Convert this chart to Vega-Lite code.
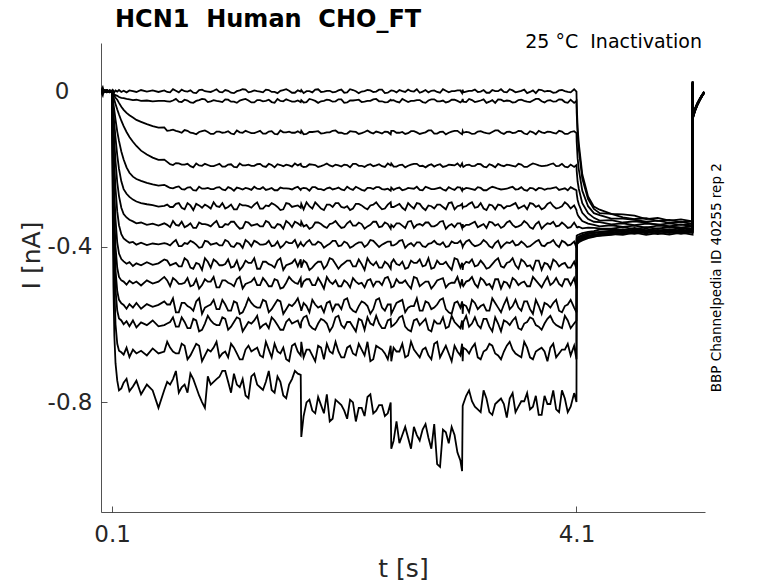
{
  "$schema": "https://vega.github.io/schema/vega-lite/v6.json",
  "width": 604,
  "height": 469,
  "autosize": {"type": "none"},
  "padding": {"left": 101, "top": 43, "right": 73, "bottom": 71},
  "background": "white",
  "config": {"view": {"stroke": null}, "font": "DejaVu Sans"},
  "layer": [
    {
      "data": {"values": [
        {"t":0.005,"a":0.001,"b":-0.002,"c":0.002,"d":-0.001,"e":0.003,"f":-0.002,"g":0.001,"h":-0.003,"i":0.002,"j":0,"k":-0.002,"l":0.003,"m":-0.001,"n":0.002},
        {"t":0.02,"a":0.01,"b":-0.011,"c":0.004,"d":-0.003,"e":0.001,"f":0.002,"g":-0.002,"h":0.001,"i":-0.001,"j":0.002,"k":0,"l":-0.001,"m":0.001,"n":0},
        {"t":0.03,"a":-0.002,"b":0.003,"c":-0.001,"d":0.002,"e":-0.003,"f":0.001,"g":-0.002,"h":0.002,"i":-0.001,"j":0.003,"k":0.001,"l":-0.002,"m":0.002,"n":-0.003},
        {"t":0.055,"a":0.002,"b":0,"c":0.003,"d":-0.002,"e":0.001,"f":0.003,"g":-0.001,"h":0,"i":0.003,"j":-0.002,"k":0.002,"l":0.001,"m":-0.003,"n":0.001},
        {"t":0.08,"a":-0.001,"b":0.002,"c":-0.002,"d":0.001,"e":0,"f":-0.003,"g":0.002,"h":0.001,"i":-0.002,"j":0.002,"k":-0.001,"l":0,"m":0.002,"n":-0.002},
        {"t":0.1,"a":0.001,"b":0,"c":-0.001,"d":0.001,"e":0,"f":0.001,"g":-0.001,"h":0,"i":0.001,"j":-0.001,"k":0,"l":0.001,"m":0,"n":-0.001},
        {"t":0.102,"a":0.002,"b":-0.002,"c":-0.002,"d":-0.003,"e":-0.005,"f":-0.01,"g":-0.015,"h":-0.025,"i":-0.035,"j":-0.05,"k":-0.06,"l":-0.07,"m":-0.08,"n":-0.1},
        {"t":0.106,"a":-0.002,"b":-0.005,"c":-0.005,"d":-0.007,"e":-0.016,"f":-0.03,"g":-0.045,"h":-0.07,"i":-0.1,"j":-0.13,"k":-0.16,"l":-0.19,"m":-0.22,"n":-0.3},
        {"t":0.112,"a":0.001,"b":-0.006,"c":-0.008,"d":-0.014,"e":-0.032,"f":-0.055,"g":-0.085,"h":-0.13,"i":-0.18,"j":-0.23,"k":-0.28,"l":-0.32,"m":-0.38,"n":-0.5},
        {"t":0.12,"a":-0.003,"b":-0.009,"c":-0.012,"d":-0.023,"e":-0.05,"f":-0.085,"g":-0.13,"h":-0.19,"i":-0.26,"j":-0.32,"k":-0.38,"l":-0.43,"m":-0.5,"n":-0.63},
        {"t":0.13,"a":0.002,"b":-0.01,"c":-0.017,"d":-0.033,"e":-0.073,"f":-0.12,"g":-0.18,"h":-0.25,"i":-0.33,"j":-0.4,"k":-0.46,"l":-0.51,"m":-0.6,"n":-0.7},
        {"t":0.145,"a":-0.001,"b":-0.012,"c":-0.022,"d":-0.047,"e":-0.104,"f":-0.165,"g":-0.235,"h":-0.31,"i":-0.39,"j":-0.455,"k":-0.515,"l":-0.565,"m":-0.65,"n":-0.745},
        {"t":0.16,"a":0.003,"b":-0.015,"c":-0.03,"d":-0.06,"e":-0.128,"f":-0.2,"g":-0.27,"h":-0.345,"i":-0.418,"j":-0.478,"k":-0.537,"l":-0.585,"m":-0.668,"n":-0.77},
        {"t":0.18,"a":-0.002,"b":-0.017,"c":-0.04,"d":-0.076,"e":-0.155,"f":-0.232,"g":-0.3,"h":-0.368,"i":-0.432,"j":-0.487,"k":-0.546,"l":-0.59,"m":-0.672,"n":-0.765},
        {"t":0.2,"a":0.001,"b":-0.018,"c":-0.048,"d":-0.09,"e":-0.176,"f":-0.252,"g":-0.316,"h":-0.379,"i":-0.438,"j":-0.49,"k":-0.55,"l":-0.6,"m":-0.678,"n":-0.75},
        {"t":0.225,"a":-0.003,"b":-0.02,"c":-0.056,"d":-0.105,"e":-0.196,"f":-0.264,"g":-0.325,"h":-0.385,"i":-0.444,"j":-0.498,"k":-0.56,"l":-0.592,"m":-0.66,"n":-0.74},
        {"t":0.25,"a":0.002,"b":-0.021,"c":-0.062,"d":-0.118,"e":-0.21,"f":-0.272,"g":-0.331,"h":-0.39,"i":-0.44,"j":-0.488,"k":-0.548,"l":-0.605,"m":-0.684,"n":-0.772},
        {"t":0.28,"a":0,"b":-0.023,"c":-0.068,"d":-0.13,"e":-0.22,"f":-0.279,"g":-0.335,"h":-0.388,"i":-0.45,"j":-0.495,"k":-0.557,"l":-0.59,"m":-0.665,"n":-0.76},
        {"t":0.31,"a":-0.002,"b":-0.022,"c":-0.074,"d":-0.141,"e":-0.226,"f":-0.284,"g":-0.34,"h":-0.395,"i":-0.443,"j":-0.49,"k":-0.545,"l":-0.608,"m":-0.675,"n":-0.745},
        {"t":0.35,"a":0.003,"b":-0.025,"c":-0.079,"d":-0.153,"e":-0.231,"f":-0.288,"g":-0.338,"h":-0.39,"i":-0.448,"j":-0.5,"k":-0.56,"l":-0.595,"m":-0.668,"n":-0.78},
        {"t":0.4,"a":-0.001,"b":-0.024,"c":-0.085,"d":-0.163,"e":-0.236,"f":-0.291,"g":-0.344,"h":-0.396,"i":-0.44,"j":-0.487,"k":-0.548,"l":-0.602,"m":-0.68,"n":-0.755},
        {"t":0.45,"a":0.002,"b":-0.026,"c":-0.09,"d":-0.171,"e":-0.24,"f":-0.293,"g":-0.341,"h":-0.392,"i":-0.447,"j":-0.495,"k":-0.555,"l":-0.59,"m":-0.662,"n":-0.77},
        {"t":0.5,"a":-0.002,"b":-0.025,"c":-0.094,"d":-0.177,"e":-0.243,"f":-0.297,"g":-0.346,"h":-0.394,"i":-0.443,"j":-0.49,"k":-0.55,"l":-0.605,"m":-0.675,"n":-0.815},
        {"t":0.55,"a":0.002,"b":-0.025,"c":-0.093,"d":-0.176,"e":-0.241,"f":-0.295,"g":-0.34,"h":-0.391,"i":-0.433,"j":-0.478,"k":-0.541,"l":-0.602,"m":-0.67,"n":-0.769},
        {"t":0.6,"a":-0.003,"b":-0.027,"c":-0.101,"d":-0.188,"e":-0.249,"f":-0.298,"g":-0.35,"h":-0.397,"i":-0.448,"j":-0.502,"k":-0.549,"l":-0.594,"m":-0.66,"n":-0.755},
        {"t":0.65,"a":0.001,"b":-0.02,"c":-0.102,"d":-0.185,"e":-0.247,"f":-0.29,"g":-0.344,"h":-0.383,"i":-0.442,"j":-0.487,"k":-0.569,"l":-0.606,"m":-0.675,"n":-0.72},
        {"t":0.7,"a":0.004,"b":-0.028,"c":-0.107,"d":-0.189,"e":-0.252,"f":-0.3,"g":-0.336,"h":-0.399,"i":-0.451,"j":-0.496,"k":-0.545,"l":-0.582,"m":-0.65,"n":-0.762},
        {"t":0.75,"a":-0.001,"b":-0.024,"c":-0.102,"d":-0.187,"e":-0.248,"f":-0.288,"g":-0.346,"h":-0.393,"i":-0.436,"j":-0.481,"k":-0.553,"l":-0.61,"m":-0.69,"n":-0.776},
        {"t":0.8,"a":-0.004,"b":-0.03,"c":-0.108,"d":-0.196,"e":-0.255,"f":-0.306,"g":-0.352,"h":-0.389,"i":-0.457,"j":-0.499,"k":-0.565,"l":-0.586,"m":-0.665,"n":-0.741},
        {"t":0.85,"a":0.003,"b":-0.023,"c":-0.105,"d":-0.191,"e":-0.246,"f":-0.294,"g":-0.338,"h":-0.403,"i":-0.445,"j":-0.508,"k":-0.533,"l":-0.618,"m":-0.655,"n":-0.783},
        {"t":0.9,"a":0,"b":-0.021,"c":-0.101,"d":-0.187,"e":-0.251,"f":-0.292,"g":-0.342,"h":-0.385,"i":-0.43,"j":-0.484,"k":-0.557,"l":-0.598,"m":-0.68,"n":-0.815},
        {"t":0.95,"a":-0.002,"b":-0.026,"c":-0.11,"d":-0.193,"e":-0.252,"f":-0.302,"g":-0.348,"h":-0.395,"i":-0.454,"j":-0.49,"k":-0.549,"l":-0.59,"m":-0.67,"n":-0.755},
        {"t":1.0,"a":0.005,"b":-0.025,"c":-0.104,"d":-0.19,"e":-0.248,"f":-0.296,"g":-0.334,"h":-0.391,"i":-0.439,"j":-0.505,"k":-0.561,"l":-0.602,"m":-0.645,"n":-0.741},
        {"t":1.05,"a":-0.003,"b":-0.028,"c":-0.107,"d":-0.194,"e":-0.253,"f":-0.288,"g":-0.35,"h":-0.397,"i":-0.448,"j":-0.487,"k":-0.537,"l":-0.582,"m":-0.675,"n":-0.72},
        {"t":1.1,"a":0.001,"b":-0.022,"c":-0.103,"d":-0.189,"e":-0.247,"f":-0.298,"g":-0.344,"h":-0.387,"i":-0.433,"j":-0.493,"k":-0.565,"l":-0.614,"m":-0.685,"n":-0.748},
        {"t":1.15,"a":-0.005,"b":-0.027,"c":-0.111,"d":-0.195,"e":-0.256,"f":-0.304,"g":-0.336,"h":-0.401,"i":-0.451,"j":-0.502,"k":-0.541,"l":-0.594,"m":-0.66,"n":-0.727},
        {"t":1.2,"a":0.002,"b":-0.024,"c":-0.106,"d":-0.186,"e":-0.25,"f":-0.29,"g":-0.354,"h":-0.393,"i":-0.46,"j":-0.478,"k":-0.573,"l":-0.586,"m":-0.69,"n":-0.762},
        {"t":1.25,"a":0.004,"b":-0.02,"c":-0.102,"d":-0.191,"e":-0.249,"f":-0.294,"g":-0.336,"h":-0.383,"i":-0.436,"j":-0.496,"k":-0.553,"l":-0.606,"m":-0.665,"n":-0.783},
        {"t":1.3,"a":-0.001,"b":-0.029,"c":-0.108,"d":-0.192,"e":-0.254,"f":-0.3,"g":-0.346,"h":-0.399,"i":-0.442,"j":-0.49,"k":-0.545,"l":-0.598,"m":-0.67,"n":-0.734},
        {"t":1.35,"a":0,"b":-0.023,"c":-0.105,"d":-0.188,"e":-0.251,"f":-0.286,"g":-0.342,"h":-0.389,"i":-0.457,"j":-0.499,"k":-0.557,"l":-0.578,"m":-0.66,"n":-0.755},
        {"t":1.4,"a":-0.003,"b":-0.026,"c":-0.109,"d":-0.193,"e":-0.247,"f":-0.302,"g":-0.348,"h":-0.395,"i":-0.439,"j":-0.481,"k":-0.537,"l":-0.602,"m":-0.685,"n":-0.769},
        {"t":1.45,"a":0.003,"b":-0.022,"c":-0.104,"d":-0.187,"e":-0.252,"f":-0.296,"g":-0.338,"h":-0.385,"i":-0.445,"j":-0.502,"k":-0.569,"l":-0.61,"m":-0.665,"n":-0.72},
        {"t":1.5,"a":-0.002,"b":-0.03,"c":-0.11,"d":-0.196,"e":-0.255,"f":-0.292,"g":-0.352,"h":-0.397,"i":-0.454,"j":-0.484,"k":-0.549,"l":-0.59,"m":-0.65,"n":-0.776},
        {"t":1.55,"a":0.001,"b":-0.025,"c":-0.101,"d":-0.19,"e":-0.248,"f":-0.306,"g":-0.344,"h":-0.403,"i":-0.43,"j":-0.508,"k":-0.541,"l":-0.614,"m":-0.675,"n":-0.748},
        {"t":1.6,"a":0.005,"b":-0.021,"c":-0.106,"d":-0.189,"e":-0.25,"f":-0.288,"g":-0.334,"h":-0.387,"i":-0.448,"j":-0.493,"k":-0.561,"l":-0.594,"m":-0.69,"n":-0.79},
        {"t":1.65,"a":-0.004,"b":-0.027,"c":-0.107,"d":-0.194,"e":-0.253,"f":-0.298,"g":-0.35,"h":-0.391,"i":-0.442,"j":-0.487,"k":-0.553,"l":-0.598,"m":-0.655,"n":-0.741},
        {"t":1.7,"a":0.002,"b":-0.024,"c":-0.103,"d":-0.191,"e":-0.246,"f":-0.294,"g":-0.34,"h":-0.401,"i":-0.451,"j":-0.496,"k":-0.533,"l":-0.59,"m":-0.67,"n":-0.727},
        {"t":1.725,"a":-0.001,"b":-0.028,"c":-0.108,"d":-0.187,"e":-0.254,"f":-0.3,"g":-0.346,"h":-0.389,"i":-0.433,"j":-0.481,"k":-0.557,"l":-0.61,"m":-0.68,"n":-0.73},
        {"t":1.73,"a":0.003,"b":-0.023,"c":-0.102,"d":-0.192,"e":-0.251,"f":-0.29,"g":-0.336,"h":-0.393,"i":-0.454,"j":-0.505,"k":-0.565,"l":-0.594,"m":-0.645,"n":-0.89},
        {"t":1.75,"a":-0.005,"b":-0.029,"c":-0.111,"d":-0.195,"e":-0.249,"f":-0.304,"g":-0.348,"h":-0.399,"i":-0.436,"j":-0.49,"k":-0.545,"l":-0.582,"m":-0.685,"n":-0.836},
        {"t":1.8,"a":0,"b":-0.02,"c":-0.105,"d":-0.188,"e":-0.256,"f":-0.296,"g":-0.354,"h":-0.383,"i":-0.46,"j":-0.484,"k":-0.569,"l":-0.602,"m":-0.665,"n":-0.794},
        {"t":1.85,"a":0.004,"b":-0.025,"c":-0.104,"d":-0.19,"e":-0.247,"f":-0.286,"g":-0.338,"h":-0.395,"i":-0.445,"j":-0.499,"k":-0.549,"l":-0.614,"m":-0.695,"n":-0.829},
        {"t":1.9,"a":-0.002,"b":-0.026,"c":-0.109,"d":-0.193,"e":-0.252,"f":-0.302,"g":-0.342,"h":-0.391,"i":-0.439,"j":-0.493,"k":-0.553,"l":-0.586,"m":-0.66,"n":-0.808},
        {"t":1.95,"a":0.001,"b":-0.022,"c":-0.106,"d":-0.186,"e":-0.25,"f":-0.292,"g":-0.352,"h":-0.397,"i":-0.448,"j":-0.478,"k":-0.545,"l":-0.598,"m":-0.65,"n":-0.78},
        {"t":2.0,"a":-0.003,"b":-0.027,"c":-0.102,"d":-0.194,"e":-0.253,"f":-0.298,"g":-0.34,"h":-0.385,"i":-0.433,"j":-0.496,"k":-0.565,"l":-0.606,"m":-0.675,"n":-0.843},
        {"t":2.05,"a":0.002,"b":-0.021,"c":-0.107,"d":-0.191,"e":-0.248,"f":-0.288,"g":-0.344,"h":-0.399,"i":-0.457,"j":-0.502,"k":-0.549,"l":-0.578,"m":-0.67,"n":-0.801},
        {"t":2.1,"a":-0.004,"b":-0.03,"c":-0.11,"d":-0.189,"e":-0.255,"f":-0.3,"g":-0.35,"h":-0.387,"i":-0.442,"j":-0.487,"k":-0.537,"l":-0.61,"m":-0.685,"n":-0.822},
        {"t":2.15,"a":0.005,"b":-0.024,"c":-0.103,"d":-0.196,"e":-0.251,"f":-0.306,"g":-0.334,"h":-0.403,"i":-0.436,"j":-0.505,"k":-0.557,"l":-0.594,"m":-0.655,"n":-0.794},
        {"t":2.2,"a":0,"b":-0.023,"c":-0.105,"d":-0.187,"e":-0.246,"f":-0.29,"g":-0.346,"h":-0.393,"i":-0.451,"j":-0.49,"k":-0.569,"l":-0.618,"m":-0.68,"n":-0.85},
        {"t":2.25,"a":-0.001,"b":-0.028,"c":-0.108,"d":-0.192,"e":-0.254,"f":-0.294,"g":-0.342,"h":-0.389,"i":-0.445,"j":-0.493,"k":-0.541,"l":-0.59,"m":-0.665,"n":-0.815},
        {"t":2.3,"a":0.003,"b":-0.025,"c":-0.101,"d":-0.19,"e":-0.249,"f":-0.304,"g":-0.348,"h":-0.395,"i":-0.43,"j":-0.487,"k":-0.553,"l":-0.582,"m":-0.645,"n":-0.787},
        {"t":2.35,"a":-0.002,"b":-0.021,"c":-0.109,"d":-0.193,"e":-0.252,"f":-0.292,"g":-0.336,"h":-0.385,"i":-0.448,"j":-0.502,"k":-0.561,"l":-0.602,"m":-0.69,"n":-0.829},
        {"t":2.4,"a":0.004,"b":-0.026,"c":-0.106,"d":-0.188,"e":-0.247,"f":-0.296,"g":-0.35,"h":-0.401,"i":-0.454,"j":-0.49,"k":-0.533,"l":-0.598,"m":-0.66,"n":-0.808},
        {"t":2.45,"a":-0.005,"b":-0.029,"c":-0.104,"d":-0.195,"e":-0.253,"f":-0.302,"g":-0.338,"h":-0.391,"i":-0.439,"j":-0.481,"k":-0.565,"l":-0.61,"m":-0.675,"n":-0.836},
        {"t":2.5,"a":0.001,"b":-0.022,"c":-0.111,"d":-0.191,"e":-0.256,"f":-0.286,"g":-0.354,"h":-0.387,"i":-0.457,"j":-0.496,"k":-0.549,"l":-0.586,"m":-0.655,"n":-0.801},
        {"t":2.505,"a":0.002,"b":-0.024,"c":-0.102,"d":-0.186,"e":-0.248,"f":-0.298,"g":-0.344,"h":-0.397,"i":-0.442,"j":-0.505,"k":-0.573,"l":-0.606,"m":-0.695,"n":-0.92},
        {"t":2.55,"a":-0.003,"b":-0.027,"c":-0.107,"d":-0.194,"e":-0.25,"f":-0.294,"g":-0.34,"h":-0.393,"i":-0.445,"j":-0.484,"k":-0.545,"l":-0.594,"m":-0.67,"n":-0.85},
        {"t":2.6,"a":0,"b":-0.02,"c":-0.105,"d":-0.189,"e":-0.255,"f":-0.3,"g":-0.346,"h":-0.383,"i":-0.439,"j":-0.493,"k":-0.537,"l":-0.578,"m":-0.65,"n":-0.885},
        {"t":2.65,"a":0.004,"b":-0.028,"c":-0.108,"d":-0.192,"e":-0.249,"f":-0.288,"g":-0.336,"h":-0.395,"i":-0.454,"j":-0.499,"k":-0.557,"l":-0.614,"m":-0.68,"n":-0.892},
        {"t":2.7,"a":-0.001,"b":-0.025,"c":-0.103,"d":-0.187,"e":-0.251,"f":-0.302,"g":-0.352,"h":-0.399,"i":-0.442,"j":-0.478,"k":-0.553,"l":-0.59,"m":-0.665,"n":-0.864},
        {"t":2.75,"a":-0.004,"b":-0.023,"c":-0.11,"d":-0.193,"e":-0.254,"f":-0.29,"g":-0.342,"h":-0.389,"i":-0.433,"j":-0.502,"k":-0.565,"l":-0.602,"m":-0.685,"n":-0.899},
        {"t":2.8,"a":0.003,"b":-0.03,"c":-0.106,"d":-0.196,"e":-0.246,"f":-0.306,"g":-0.338,"h":-0.401,"i":-0.448,"j":-0.49,"k":-0.541,"l":-0.586,"m":-0.66,"n":-0.857},
        {"t":2.85,"a":0.001,"b":-0.021,"c":-0.101,"d":-0.188,"e":-0.252,"f":-0.296,"g":-0.348,"h":-0.391,"i":-0.457,"j":-0.508,"k":-0.561,"l":-0.618,"m":-0.69,"n":-0.92},
        {"t":2.9,"a":-0.002,"b":-0.026,"c":-0.109,"d":-0.19,"e":-0.25,"f":-0.292,"g":-0.344,"h":-0.393,"i":-0.436,"j":-0.487,"k":-0.549,"l":-0.598,"m":-0.645,"n":-0.96},
        {"t":2.95,"a":0.005,"b":-0.024,"c":-0.104,"d":-0.195,"e":-0.253,"f":-0.298,"g":-0.334,"h":-0.389,"i":-0.445,"j":-0.481,"k":-0.533,"l":-0.582,"m":-0.67,"n":-0.871},
        {"t":3.0,"a":-0.003,"b":-0.027,"c":-0.107,"d":-0.189,"e":-0.247,"f":-0.288,"g":-0.346,"h":-0.399,"i":-0.451,"j":-0.496,"k":-0.569,"l":-0.606,"m":-0.675,"n":-0.906},
        {"t":3.05,"a":0,"b":-0.022,"c":-0.102,"d":-0.191,"e":-0.254,"f":-0.304,"g":-0.35,"h":-0.391,"i":-0.43,"j":-0.493,"k":-0.545,"l":-0.594,"m":-0.655,"n":-0.885},
        {"t":3.1,"a":0.002,"b":-0.029,"c":-0.108,"d":-0.194,"e":-0.248,"f":-0.294,"g":-0.34,"h":-0.385,"i":-0.454,"j":-0.502,"k":-0.557,"l":-0.61,"m":-0.68,"n":-0.95},
        {"t":3.115,"a":-0.005,"b":-0.025,"c":-0.111,"d":-0.186,"e":-0.256,"f":-0.29,"g":-0.352,"h":-0.395,"i":-0.442,"j":-0.484,"k":-0.541,"l":-0.59,"m":-0.65,"n":-0.978},
        {"t":3.12,"a":0.004,"b":-0.02,"c":-0.103,"d":-0.192,"e":-0.251,"f":-0.3,"g":-0.342,"h":-0.401,"i":-0.46,"j":-0.499,"k":-0.573,"l":-0.614,"m":-0.695,"n":-0.81},
        {"t":3.15,"a":-0.001,"b":-0.028,"c":-0.105,"d":-0.19,"e":-0.249,"f":-0.296,"g":-0.344,"h":-0.387,"i":-0.439,"j":-0.49,"k":-0.553,"l":-0.578,"m":-0.665,"n":-0.784},
        {"t":3.2,"a":0.001,"b":-0.023,"c":-0.11,"d":-0.193,"e":-0.252,"f":-0.286,"g":-0.34,"h":-0.393,"i":-0.433,"j":-0.478,"k":-0.537,"l":-0.598,"m":-0.66,"n":-0.798},
        {"t":3.25,"a":-0.002,"b":-0.026,"c":-0.104,"d":-0.187,"e":-0.247,"f":-0.298,"g":-0.35,"h":-0.397,"i":-0.448,"j":-0.505,"k":-0.561,"l":-0.602,"m":-0.685,"n":-0.819},
        {"t":3.3,"a":0.003,"b":-0.021,"c":-0.106,"d":-0.194,"e":-0.255,"f":-0.302,"g":-0.342,"h":-0.383,"i":-0.445,"j":-0.487,"k":-0.549,"l":-0.586,"m":-0.67,"n":-0.77},
        {"t":3.35,"a":-0.004,"b":-0.027,"c":-0.109,"d":-0.188,"e":-0.25,"f":-0.292,"g":-0.336,"h":-0.399,"i":-0.454,"j":-0.496,"k":-0.565,"l":-0.606,"m":-0.65,"n":-0.826},
        {"t":3.4,"a":0,"b":-0.03,"c":-0.101,"d":-0.196,"e":-0.248,"f":-0.304,"g":-0.346,"h":-0.391,"i":-0.436,"j":-0.484,"k":-0.545,"l":-0.582,"m":-0.675,"n":-0.805},
        {"t":3.45,"a":0.005,"b":-0.022,"c":-0.107,"d":-0.191,"e":-0.253,"f":-0.294,"g":-0.352,"h":-0.403,"i":-0.451,"j":-0.508,"k":-0.569,"l":-0.618,"m":-0.69,"n":-0.791},
        {"t":3.5,"a":-0.003,"b":-0.024,"c":-0.105,"d":-0.189,"e":-0.251,"f":-0.296,"g":-0.338,"h":-0.389,"i":-0.442,"j":-0.493,"k":-0.533,"l":-0.594,"m":-0.655,"n":-0.84},
        {"t":3.55,"a":0.002,"b":-0.029,"c":-0.108,"d":-0.192,"e":-0.246,"f":-0.292,"g":-0.344,"h":-0.385,"i":-0.43,"j":-0.481,"k":-0.553,"l":-0.59,"m":-0.665,"n":-0.777},
        {"t":3.6,"a":-0.001,"b":-0.023,"c":-0.102,"d":-0.187,"e":-0.252,"f":-0.302,"g":-0.348,"h":-0.395,"i":-0.457,"j":-0.499,"k":-0.557,"l":-0.61,"m":-0.68,"n":-0.812},
        {"t":3.65,"a":0.004,"b":-0.025,"c":-0.109,"d":-0.195,"e":-0.254,"f":-0.294,"g":-0.334,"h":-0.393,"i":-0.439,"j":-0.49,"k":-0.541,"l":-0.598,"m":-0.645,"n":-0.798},
        {"t":3.7,"a":-0.002,"b":-0.028,"c":-0.103,"d":-0.19,"e":-0.249,"f":-0.288,"g":-0.35,"h":-0.399,"i":-0.448,"j":-0.502,"k":-0.561,"l":-0.582,"m":-0.685,"n":-0.819},
        {"t":3.75,"a":-0.005,"b":-0.02,"c":-0.111,"d":-0.188,"e":-0.255,"f":-0.298,"g":-0.342,"h":-0.387,"i":-0.436,"j":-0.487,"k":-0.537,"l":-0.602,"m":-0.67,"n":-0.784},
        {"t":3.8,"a":0.003,"b":-0.026,"c":-0.106,"d":-0.193,"e":-0.25,"f":-0.304,"g":-0.354,"h":-0.397,"i":-0.46,"j":-0.505,"k":-0.573,"l":-0.614,"m":-0.66,"n":-0.833},
        {"t":3.85,"a":0.001,"b":-0.024,"c":-0.104,"d":-0.191,"e":-0.251,"f":-0.29,"g":-0.34,"h":-0.391,"i":-0.445,"j":-0.478,"k":-0.549,"l":-0.586,"m":-0.695,"n":-0.805},
        {"t":3.9,"a":-0.004,"b":-0.027,"c":-0.107,"d":-0.186,"e":-0.249,"f":-0.296,"g":-0.336,"h":-0.383,"i":-0.433,"j":-0.493,"k":-0.545,"l":-0.594,"m":-0.65,"n":-0.77},
        {"t":3.95,"a":0.002,"b":-0.021,"c":-0.102,"d":-0.192,"e":-0.254,"f":-0.3,"g":-0.346,"h":-0.401,"i":-0.451,"j":-0.496,"k":-0.565,"l":-0.606,"m":-0.675,"n":-0.826},
        {"t":4.0,"a":0,"b":-0.028,"c":-0.11,"d":-0.194,"e":-0.25,"f":-0.286,"g":-0.344,"h":-0.389,"i":-0.442,"j":-0.484,"k":-0.553,"l":-0.578,"m":-0.665,"n":-0.791},
        {"t":4.05,"a":-0.003,"b":-0.022,"c":-0.105,"d":-0.189,"e":-0.247,"f":-0.302,"g":-0.35,"h":-0.395,"i":-0.454,"j":-0.499,"k":-0.537,"l":-0.61,"m":-0.68,"n":-0.812},
        {"t":4.08,"a":0.005,"b":-0.03,"c":-0.103,"d":-0.195,"e":-0.252,"f":-0.294,"g":-0.338,"h":-0.387,"i":-0.439,"j":-0.481,"k":-0.557,"l":-0.598,"m":-0.655,"n":-0.777},
        {"t":4.1,"a":-0.001,"b":-0.025,"c":-0.108,"d":-0.19,"e":-0.255,"f":-0.306,"g":-0.348,"h":-0.403,"i":-0.457,"j":-0.508,"k":-0.569,"l":-0.59,"m":-0.69,"n":-0.8},
        {"t":4.102,"a":-0.033,"b":-0.056,"c":-0.131,"d":-0.205,"e":-0.264,"f":-0.31,"g":-0.35,"h":-0.372,"i":-0.378,"j":-0.382,"k":-0.386,"l":-0.389,"m":-0.392,"n":-0.395},
        {"t":4.11,"a":-0.094,"b":-0.112,"c":-0.173,"d":-0.233,"e":-0.28,"f":-0.318,"g":-0.351,"h":-0.37,"i":-0.376,"j":-0.38,"k":-0.384,"l":-0.386,"m":-0.389,"n":-0.392},
        {"t":4.12,"a":-0.134,"b":-0.15,"c":-0.201,"d":-0.251,"e":-0.291,"f":-0.323,"g":-0.349,"h":-0.369,"i":-0.374,"j":-0.377,"k":-0.381,"l":-0.384,"m":-0.387,"n":-0.389},
        {"t":4.15,"a":-0.214,"b":-0.225,"c":-0.256,"d":-0.288,"e":-0.313,"f":-0.334,"g":-0.353,"h":-0.365,"i":-0.37,"j":-0.373,"k":-0.376,"l":-0.379,"m":-0.381,"n":-0.384},
        {"t":4.2,"a":-0.271,"b":-0.278,"c":-0.296,"d":-0.314,"e":-0.329,"f":-0.341,"g":-0.351,"h":-0.362,"i":-0.365,"j":-0.368,"k":-0.371,"l":-0.373,"m":-0.376,"n":-0.378},
        {"t":4.25,"a":-0.297,"b":-0.303,"c":-0.314,"d":-0.326,"e":-0.336,"f":-0.344,"g":-0.352,"h":-0.36,"i":-0.363,"j":-0.366,"k":-0.369,"l":-0.371,"m":-0.373,"n":-0.375},
        {"t":4.3,"a":-0.305,"b":-0.314,"c":-0.319,"d":-0.333,"e":-0.337,"f":-0.348,"g":-0.353,"h":-0.356,"i":-0.363,"j":-0.362,"k":-0.368,"l":-0.366,"m":-0.372,"n":-0.371},
        {"t":4.4,"a":-0.316,"b":-0.316,"c":-0.328,"d":-0.332,"e":-0.343,"f":-0.345,"g":-0.354,"h":-0.355,"i":-0.361,"j":-0.359,"k":-0.366,"l":-0.364,"m":-0.37,"n":-0.368},
        {"t":4.5,"a":-0.317,"b":-0.325,"c":-0.328,"d":-0.338,"e":-0.34,"f":-0.349,"g":-0.35,"h":-0.358,"i":-0.356,"j":-0.362,"k":-0.36,"l":-0.366,"m":-0.364,"n":-0.37},
        {"t":4.6,"a":-0.32,"b":-0.329,"c":-0.331,"d":-0.335,"e":-0.345,"f":-0.346,"g":-0.355,"h":-0.352,"i":-0.359,"j":-0.356,"k":-0.364,"l":-0.361,"m":-0.367,"n":-0.364},
        {"t":4.7,"a":-0.329,"b":-0.327,"c":-0.336,"d":-0.338,"e":-0.341,"f":-0.351,"g":-0.35,"h":-0.358,"i":-0.354,"j":-0.361,"k":-0.359,"l":-0.366,"m":-0.362,"n":-0.37},
        {"t":4.8,"a":-0.326,"b":-0.334,"c":-0.333,"d":-0.344,"e":-0.343,"f":-0.346,"g":-0.354,"h":-0.353,"i":-0.36,"j":-0.357,"k":-0.363,"l":-0.36,"m":-0.368,"n":-0.365},
        {"t":4.9,"a":-0.333,"b":-0.331,"c":-0.339,"d":-0.34,"e":-0.348,"f":-0.348,"g":-0.349,"h":-0.357,"i":-0.355,"j":-0.362,"k":-0.358,"l":-0.365,"m":-0.363,"n":-0.369},
        {"t":5.0,"a":-0.33,"b":-0.337,"c":-0.336,"d":-0.344,"e":-0.343,"f":-0.351,"g":-0.351,"h":-0.352,"i":-0.359,"j":-0.356,"k":-0.364,"l":-0.361,"m":-0.367,"n":-0.364},
        {"t":5.1,"a":-0.335,"b":-0.335,"c":-0.342,"d":-0.341,"e":-0.348,"f":-0.347,"g":-0.354,"h":-0.354,"i":-0.355,"j":-0.361,"k":-0.359,"l":-0.364,"m":-0.363,"n":-0.369},
        {"t":5.1005,"a":0.025,"b":0.022,"c":0.024,"d":0.02,"e":0.023,"f":0.021,"g":0.025,"h":0.019,"i":0.022,"j":0.024,"k":0.02,"l":0.023,"m":0.021,"n":0.025},
        {"t":5.102,"a":-0.068,"b":-0.064,"c":-0.07,"d":-0.066,"e":-0.062,"f":-0.069,"g":-0.065,"h":-0.067,"i":-0.063,"j":-0.07,"k":-0.066,"l":-0.068,"m":-0.064,"n":-0.067},
        {"t":5.12,"a":-0.05,"b":-0.047,"c":-0.052,"d":-0.048,"e":-0.045,"f":-0.051,"g":-0.049,"h":-0.05,"i":-0.046,"j":-0.052,"k":-0.048,"l":-0.05,"m":-0.047,"n":-0.049},
        {"t":5.14,"a":-0.035,"b":-0.033,"c":-0.037,"d":-0.034,"e":-0.031,"f":-0.036,"g":-0.034,"h":-0.035,"i":-0.032,"j":-0.037,"k":-0.033,"l":-0.035,"m":-0.033,"n":-0.034},
        {"t":5.16,"a":-0.023,"b":-0.021,"c":-0.025,"d":-0.022,"e":-0.02,"f":-0.024,"g":-0.022,"h":-0.023,"i":-0.021,"j":-0.025,"k":-0.022,"l":-0.023,"m":-0.021,"n":-0.022},
        {"t":5.18,"a":-0.013,"b":-0.011,"c":-0.014,"d":-0.012,"e":-0.01,"f":-0.013,"g":-0.012,"h":-0.013,"i":-0.011,"j":-0.014,"k":-0.012,"l":-0.013,"m":-0.011,"n":-0.012},
        {"t":5.2,"a":-0.004,"b":-0.002,"c":-0.005,"d":-0.003,"e":-0.001,"f":-0.004,"g":-0.003,"h":-0.004,"i":-0.002,"j":-0.005,"k":-0.003,"l":-0.004,"m":-0.002,"n":-0.003},
        {"t":0.575,"a":-0.002,"b":-0.026,"c":-0.102,"d":-0.182,"e":-0.245,"f":-0.292,"g":-0.344,"h":-0.393,"i":-0.436,"j":-0.487,"k":-0.549,"l":-0.598,"m":-0.645,"n":-0.748},
        {"t":0.625,"a":0.005,"b":-0.024,"c":-0.099,"d":-0.19,"e":-0.25,"f":-0.298,"g":-0.334,"h":-0.389,"i":-0.445,"j":-0.481,"k":-0.533,"l":-0.582,"m":-0.67,"n":-0.741},
        {"t":0.675,"a":-0.003,"b":-0.027,"c":-0.104,"d":-0.186,"e":-0.245,"f":-0.288,"g":-0.346,"h":-0.399,"i":-0.451,"j":-0.496,"k":-0.569,"l":-0.606,"m":-0.675,"n":-0.776},
        {"t":0.725,"a":0,"b":-0.022,"c":-0.1,"d":-0.189,"e":-0.253,"f":-0.304,"g":-0.35,"h":-0.391,"i":-0.43,"j":-0.493,"k":-0.545,"l":-0.594,"m":-0.655,"n":-0.755},
        {"t":0.775,"a":0.002,"b":-0.029,"c":-0.107,"d":-0.193,"e":-0.247,"f":-0.294,"g":-0.34,"h":-0.385,"i":-0.454,"j":-0.502,"k":-0.557,"l":-0.61,"m":-0.68,"n":-0.727},
        {"t":0.825,"a":-0.005,"b":-0.025,"c":-0.111,"d":-0.186,"e":-0.256,"f":-0.29,"g":-0.352,"h":-0.395,"i":-0.442,"j":-0.484,"k":-0.541,"l":-0.59,"m":-0.65,"n":-0.762},
        {"t":0.875,"a":0.004,"b":-0.02,"c":-0.103,"d":-0.192,"e":-0.251,"f":-0.3,"g":-0.342,"h":-0.401,"i":-0.46,"j":-0.499,"k":-0.573,"l":-0.614,"m":-0.695,"n":-0.8},
        {"t":0.925,"a":-0.001,"b":-0.028,"c":-0.105,"d":-0.19,"e":-0.249,"f":-0.296,"g":-0.344,"h":-0.387,"i":-0.439,"j":-0.49,"k":-0.553,"l":-0.578,"m":-0.665,"n":-0.734},
        {"t":0.975,"a":0.001,"b":-0.023,"c":-0.11,"d":-0.193,"e":-0.252,"f":-0.286,"g":-0.34,"h":-0.393,"i":-0.433,"j":-0.478,"k":-0.537,"l":-0.598,"m":-0.66,"n":-0.748},
        {"t":1.025,"a":-0.002,"b":-0.026,"c":-0.104,"d":-0.187,"e":-0.247,"f":-0.298,"g":-0.35,"h":-0.397,"i":-0.448,"j":-0.505,"k":-0.561,"l":-0.602,"m":-0.685,"n":-0.735},
        {"t":1.075,"a":0.003,"b":-0.021,"c":-0.106,"d":-0.194,"e":-0.255,"f":-0.302,"g":-0.342,"h":-0.383,"i":-0.445,"j":-0.487,"k":-0.549,"l":-0.586,"m":-0.67,"n":-0.72},
        {"t":1.125,"a":-0.004,"b":-0.027,"c":-0.109,"d":-0.188,"e":-0.25,"f":-0.292,"g":-0.336,"h":-0.399,"i":-0.454,"j":-0.496,"k":-0.565,"l":-0.606,"m":-0.65,"n":-0.776},
        {"t":1.175,"a":0,"b":-0.03,"c":-0.101,"d":-0.196,"e":-0.248,"f":-0.304,"g":-0.346,"h":-0.391,"i":-0.436,"j":-0.484,"k":-0.545,"l":-0.582,"m":-0.675,"n":-0.755},
        {"t":1.225,"a":0.005,"b":-0.022,"c":-0.107,"d":-0.191,"e":-0.253,"f":-0.294,"g":-0.352,"h":-0.403,"i":-0.451,"j":-0.508,"k":-0.569,"l":-0.618,"m":-0.69,"n":-0.741},
        {"t":1.275,"a":-0.003,"b":-0.024,"c":-0.105,"d":-0.189,"e":-0.251,"f":-0.296,"g":-0.338,"h":-0.389,"i":-0.442,"j":-0.493,"k":-0.533,"l":-0.594,"m":-0.655,"n":-0.79},
        {"t":1.325,"a":0.002,"b":-0.029,"c":-0.108,"d":-0.192,"e":-0.246,"f":-0.292,"g":-0.344,"h":-0.385,"i":-0.43,"j":-0.481,"k":-0.553,"l":-0.59,"m":-0.665,"n":-0.727},
        {"t":1.375,"a":-0.001,"b":-0.023,"c":-0.102,"d":-0.187,"e":-0.252,"f":-0.302,"g":-0.348,"h":-0.395,"i":-0.457,"j":-0.499,"k":-0.557,"l":-0.61,"m":-0.68,"n":-0.762},
        {"t":1.425,"a":0.004,"b":-0.025,"c":-0.109,"d":-0.195,"e":-0.254,"f":-0.294,"g":-0.334,"h":-0.393,"i":-0.439,"j":-0.49,"k":-0.541,"l":-0.598,"m":-0.645,"n":-0.748},
        {"t":1.475,"a":-0.002,"b":-0.028,"c":-0.103,"d":-0.19,"e":-0.249,"f":-0.288,"g":-0.35,"h":-0.399,"i":-0.448,"j":-0.502,"k":-0.561,"l":-0.582,"m":-0.685,"n":-0.769},
        {"t":1.525,"a":-0.005,"b":-0.02,"c":-0.111,"d":-0.188,"e":-0.255,"f":-0.298,"g":-0.342,"h":-0.387,"i":-0.436,"j":-0.487,"k":-0.537,"l":-0.602,"m":-0.67,"n":-0.734},
        {"t":1.575,"a":0.003,"b":-0.026,"c":-0.106,"d":-0.193,"e":-0.25,"f":-0.304,"g":-0.354,"h":-0.397,"i":-0.46,"j":-0.505,"k":-0.573,"l":-0.614,"m":-0.66,"n":-0.783},
        {"t":1.625,"a":0.001,"b":-0.024,"c":-0.104,"d":-0.191,"e":-0.251,"f":-0.29,"g":-0.34,"h":-0.391,"i":-0.445,"j":-0.478,"k":-0.549,"l":-0.586,"m":-0.695,"n":-0.755},
        {"t":1.675,"a":-0.004,"b":-0.027,"c":-0.107,"d":-0.186,"e":-0.249,"f":-0.296,"g":-0.336,"h":-0.383,"i":-0.433,"j":-0.493,"k":-0.545,"l":-0.594,"m":-0.65,"n":-0.72},
        {"t":1.775,"a":0,"b":-0.028,"c":-0.11,"d":-0.194,"e":-0.25,"f":-0.286,"g":-0.344,"h":-0.389,"i":-0.442,"j":-0.484,"k":-0.553,"l":-0.578,"m":-0.665,"n":-0.801},
        {"t":1.825,"a":-0.003,"b":-0.022,"c":-0.105,"d":-0.189,"e":-0.247,"f":-0.302,"g":-0.35,"h":-0.395,"i":-0.454,"j":-0.499,"k":-0.537,"l":-0.61,"m":-0.68,"n":-0.822},
        {"t":1.875,"a":0.005,"b":-0.03,"c":-0.103,"d":-0.195,"e":-0.252,"f":-0.294,"g":-0.338,"h":-0.387,"i":-0.439,"j":-0.481,"k":-0.557,"l":-0.598,"m":-0.655,"n":-0.787},
        {"t":1.925,"a":-0.001,"b":-0.025,"c":-0.108,"d":-0.19,"e":-0.255,"f":-0.306,"g":-0.348,"h":-0.403,"i":-0.457,"j":-0.508,"k":-0.569,"l":-0.59,"m":-0.69,"n":-0.829},
        {"t":1.975,"a":0.001,"b":-0.023,"c":-0.106,"d":-0.191,"e":-0.248,"f":-0.292,"g":-0.342,"h":-0.393,"i":-0.43,"j":-0.49,"k":-0.541,"l":-0.618,"m":-0.67,"n":-0.85},
        {"t":2.025,"a":-0.002,"b":-0.026,"c":-0.101,"d":-0.189,"e":-0.251,"f":-0.288,"g":-0.334,"h":-0.385,"i":-0.445,"j":-0.487,"k":-0.549,"l":-0.582,"m":-0.645,"n":-0.794},
        {"t":2.075,"a":0.004,"b":-0.021,"c":-0.107,"d":-0.194,"e":-0.253,"f":-0.298,"g":-0.352,"h":-0.397,"i":-0.448,"j":-0.502,"k":-0.561,"l":-0.602,"m":-0.685,"n":-0.808},
        {"t":2.125,"a":-0.003,"b":-0.029,"c":-0.109,"d":-0.19,"e":-0.246,"f":-0.296,"g":-0.34,"h":-0.391,"i":-0.436,"j":-0.493,"k":-0.533,"l":-0.594,"m":-0.66,"n":-0.843},
        {"t":2.175,"a":0.003,"b":-0.024,"c":-0.104,"d":-0.187,"e":-0.254,"f":-0.302,"g":-0.346,"h":-0.399,"i":-0.451,"j":-0.481,"k":-0.565,"l":-0.606,"m":-0.675,"n":-0.801},
        {"t":2.225,"a":-0.005,"b":-0.022,"c":-0.11,"d":-0.192,"e":-0.25,"f":-0.29,"g":-0.338,"h":-0.389,"i":-0.433,"j":-0.496,"k":-0.553,"l":-0.586,"m":-0.65,"n":-0.815},
        {"t":2.275,"a":0,"b":-0.027,"c":-0.105,"d":-0.195,"e":-0.256,"f":-0.3,"g":-0.354,"h":-0.401,"i":-0.46,"j":-0.505,"k":-0.545,"l":-0.614,"m":-0.68,"n":-0.836},
        {"t":2.325,"a":0.002,"b":-0.025,"c":-0.106,"d":-0.188,"e":-0.249,"f":-0.294,"g":-0.344,"h":-0.383,"i":-0.442,"j":-0.484,"k":-0.573,"l":-0.598,"m":-0.695,"n":-0.78},
        {"t":2.375,"a":-0.001,"b":-0.02,"c":-0.104,"d":-0.191,"e":-0.247,"f":-0.286,"g":-0.336,"h":-0.393,"i":-0.439,"j":-0.49,"k":-0.537,"l":-0.578,"m":-0.655,"n":-0.822},
        {"t":2.425,"a":0.004,"b":-0.026,"c":-0.109,"d":-0.193,"e":-0.252,"f":-0.304,"g":-0.348,"h":-0.395,"i":-0.454,"j":-0.499,"k":-0.557,"l":-0.61,"m":-0.665,"n":-0.808},
        {"t":2.475,"a":-0.004,"b":-0.028,"c":-0.105,"d":-0.186,"e":-0.251,"f":-0.292,"g":-0.342,"h":-0.387,"i":-0.445,"j":-0.478,"k":-0.549,"l":-0.59,"m":-0.69,"n":-0.829},
        {"t":2.525,"a":0.001,"b":-0.023,"c":-0.102,"d":-0.194,"e":-0.254,"f":-0.298,"g":-0.35,"h":-0.397,"i":-0.433,"j":-0.502,"k":-0.561,"l":-0.602,"m":-0.66,"n":-0.9},
        {"t":2.575,"a":0.003,"b":-0.029,"c":-0.107,"d":-0.19,"e":-0.248,"f":-0.29,"g":-0.34,"h":-0.385,"i":-0.448,"j":-0.493,"k":-0.541,"l":-0.582,"m":-0.67,"n":-0.906},
        {"t":2.625,"a":-0.002,"b":-0.024,"c":-0.11,"d":-0.196,"e":-0.253,"f":-0.306,"g":-0.352,"h":-0.403,"i":-0.457,"j":-0.487,"k":-0.569,"l":-0.606,"m":-0.685,"n":-0.864},
        {"t":2.675,"a":0,"b":-0.025,"c":-0.103,"d":-0.189,"e":-0.25,"f":-0.296,"g":-0.334,"h":-0.391,"i":-0.436,"j":-0.508,"k":-0.553,"l":-0.618,"m":-0.645,"n":-0.92},
        {"t":2.725,"a":0.005,"b":-0.023,"c":-0.106,"d":-0.187,"e":-0.246,"f":-0.288,"g":-0.344,"h":-0.389,"i":-0.442,"j":-0.481,"k":-0.533,"l":-0.586,"m":-0.675,"n":-0.885},
        {"t":2.775,"a":-0.001,"b":-0.028,"c":-0.108,"d":-0.192,"e":-0.255,"f":-0.3,"g":-0.346,"h":-0.399,"i":-0.451,"j":-0.496,"k":-0.565,"l":-0.594,"m":-0.665,"n":-0.871},
        {"t":2.825,"a":-0.003,"b":-0.024,"c":-0.101,"d":-0.191,"e":-0.249,"f":-0.294,"g":-0.338,"h":-0.393,"i":-0.43,"j":-0.49,"k":-0.545,"l":-0.614,"m":-0.68,"n":-0.892},
        {"t":2.875,"a":0.002,"b":-0.021,"c":-0.109,"d":-0.194,"e":-0.252,"f":-0.302,"g":-0.348,"h":-0.385,"i":-0.454,"j":-0.499,"k":-0.557,"l":-0.59,"m":-0.65,"n":-0.857},
        {"t":2.925,"a":-0.004,"b":-0.026,"c":-0.105,"d":-0.188,"e":-0.248,"f":-0.292,"g":-0.336,"h":-0.395,"i":-0.445,"j":-0.484,"k":-0.537,"l":-0.598,"m":-0.685,"n":-0.967},
        {"t":2.975,"a":0.001,"b":-0.029,"c":-0.111,"d":-0.193,"e":-0.256,"f":-0.304,"g":-0.354,"h":-0.401,"i":-0.439,"j":-0.505,"k":-0.561,"l":-0.61,"m":-0.655,"n":-0.878},
        {"t":3.025,"a":0,"b":-0.022,"c":-0.104,"d":-0.19,"e":-0.251,"f":-0.286,"g":-0.342,"h":-0.387,"i":-0.46,"j":-0.493,"k":-0.573,"l":-0.578,"m":-0.695,"n":-0.864},
        {"t":3.075,"a":0.002,"b":-0.025,"c":-0.102,"d":-0.186,"e":-0.247,"f":-0.296,"g":-0.34,"h":-0.391,"i":-0.433,"j":-0.478,"k":-0.541,"l":-0.602,"m":-0.67,"n":-0.93},
        {"t":3.125,"a":-0.003,"b":-0.027,"c":-0.107,"d":-0.195,"e":-0.253,"f":-0.298,"g":-0.35,"h":-0.397,"i":-0.448,"j":-0.502,"k":-0.549,"l":-0.594,"m":-0.66,"n":-0.805},
        {"t":3.175,"a":0.001,"b":-0.02,"c":-0.106,"d":-0.189,"e":-0.25,"f":-0.29,"g":-0.344,"h":-0.383,"i":-0.442,"j":-0.487,"k":-0.569,"l":-0.606,"m":-0.675,"n":-0.77},
        {"t":3.225,"a":0.004,"b":-0.028,"c":-0.109,"d":-0.192,"e":-0.254,"f":-0.3,"g":-0.336,"h":-0.399,"i":-0.451,"j":-0.496,"k":-0.545,"l":-0.582,"m":-0.65,"n":-0.812},
        {"t":3.275,"a":-0.001,"b":-0.024,"c":-0.103,"d":-0.188,"e":-0.249,"f":-0.288,"g":-0.346,"h":-0.393,"i":-0.436,"j":-0.481,"k":-0.553,"l":-0.61,"m":-0.69,"n":-0.826},
        {"t":3.325,"a":-0.004,"b":-0.03,"c":-0.108,"d":-0.196,"e":-0.255,"f":-0.306,"g":-0.352,"h":-0.389,"i":-0.457,"j":-0.499,"k":-0.565,"l":-0.586,"m":-0.665,"n":-0.791},
        {"t":3.375,"a":0.003,"b":-0.023,"c":-0.105,"d":-0.191,"e":-0.246,"f":-0.294,"g":-0.338,"h":-0.403,"i":-0.445,"j":-0.508,"k":-0.533,"l":-0.618,"m":-0.655,"n":-0.833},
        {"t":3.425,"a":0,"b":-0.021,"c":-0.101,"d":-0.187,"e":-0.251,"f":-0.292,"g":-0.342,"h":-0.385,"i":-0.43,"j":-0.484,"k":-0.557,"l":-0.598,"m":-0.68,"n":-0.798},
        {"t":3.475,"a":-0.002,"b":-0.026,"c":-0.11,"d":-0.193,"e":-0.252,"f":-0.302,"g":-0.348,"h":-0.395,"i":-0.454,"j":-0.49,"k":-0.549,"l":-0.59,"m":-0.67,"n":-0.805},
        {"t":3.525,"a":0.005,"b":-0.025,"c":-0.104,"d":-0.19,"e":-0.248,"f":-0.296,"g":-0.334,"h":-0.391,"i":-0.439,"j":-0.505,"k":-0.561,"l":-0.602,"m":-0.645,"n":-0.791},
        {"t":3.575,"a":-0.003,"b":-0.028,"c":-0.107,"d":-0.194,"e":-0.253,"f":-0.288,"g":-0.35,"h":-0.397,"i":-0.448,"j":-0.487,"k":-0.537,"l":-0.582,"m":-0.675,"n":-0.826},
        {"t":3.625,"a":0.001,"b":-0.022,"c":-0.103,"d":-0.189,"e":-0.247,"f":-0.298,"g":-0.344,"h":-0.387,"i":-0.433,"j":-0.493,"k":-0.565,"l":-0.614,"m":-0.685,"n":-0.798},
        {"t":3.675,"a":-0.005,"b":-0.027,"c":-0.111,"d":-0.195,"e":-0.256,"f":-0.304,"g":-0.34,"h":-0.401,"i":-0.451,"j":-0.502,"k":-0.541,"l":-0.594,"m":-0.66,"n":-0.777},
        {"t":3.725,"a":0.002,"b":-0.024,"c":-0.106,"d":-0.186,"e":-0.25,"f":-0.29,"g":-0.354,"h":-0.393,"i":-0.46,"j":-0.478,"k":-0.573,"l":-0.586,"m":-0.69,"n":-0.812},
        {"t":3.775,"a":0.004,"b":-0.02,"c":-0.102,"d":-0.191,"e":-0.249,"f":-0.294,"g":-0.336,"h":-0.383,"i":-0.436,"j":-0.496,"k":-0.553,"l":-0.606,"m":-0.665,"n":-0.833},
        {"t":3.825,"a":-0.001,"b":-0.029,"c":-0.108,"d":-0.192,"e":-0.254,"f":-0.3,"g":-0.346,"h":-0.399,"i":-0.442,"j":-0.49,"k":-0.545,"l":-0.598,"m":-0.67,"n":-0.784},
        {"t":3.875,"a":0,"b":-0.023,"c":-0.105,"d":-0.188,"e":-0.251,"f":-0.286,"g":-0.342,"h":-0.389,"i":-0.457,"j":-0.499,"k":-0.557,"l":-0.578,"m":-0.66,"n":-0.805},
        {"t":3.925,"a":-0.003,"b":-0.026,"c":-0.109,"d":-0.193,"e":-0.247,"f":-0.302,"g":-0.348,"h":-0.395,"i":-0.439,"j":-0.481,"k":-0.537,"l":-0.602,"m":-0.685,"n":-0.819},
        {"t":3.975,"a":0.003,"b":-0.022,"c":-0.104,"d":-0.187,"e":-0.252,"f":-0.296,"g":-0.338,"h":-0.385,"i":-0.445,"j":-0.502,"k":-0.569,"l":-0.61,"m":-0.665,"n":-0.77},
        {"t":4.025,"a":-0.002,"b":-0.03,"c":-0.11,"d":-0.196,"e":-0.255,"f":-0.292,"g":-0.352,"h":-0.397,"i":-0.454,"j":-0.484,"k":-0.549,"l":-0.59,"m":-0.65,"n":-0.826}
      ]},
      "transform": [{"fold": ["a","b","c","d","e","f","g","h","i","j","k","l","m","n"], "as": ["trace","v"]}],
      "mark": {"type": "line", "color": "#000000", "strokeWidth": 1.8, "clip": true},
      "encoding": {
        "x": {
          "field": "t", "type": "quantitative",
          "scale": {"domain": [0.005, 5.207], "nice": false, "zero": false},
          "axis": {
            "values": [0.1, 4.1], "format": ".1f", "title": "t [s]", "grid": false,
            "tickSize": -6, "labelPadding": 17.5, "labelFontSize": 23, "labelFont": "DejaVu Sans",
            "labelColor": "#262626", "labelFlush": false, "labelOverlap": false,
            "titleFontSize": 25, "titleFont": "DejaVu Sans", "titleFontWeight": "normal",
            "titleColor": "#262626", "titleY": 56, "titleBaseline": "middle",
            "domainColor": "#262626", "domainWidth": 0.8, "tickColor": "#262626", "tickWidth": 0.8
          }
        },
        "y": {
          "field": "v", "type": "quantitative",
          "scale": {"domain": [-1.083, 0.124], "nice": false, "zero": false},
          "axis": {
            "values": [0, -0.4, -0.8],
            "labelExpr": "datum.value === 0 ? '0' : '-' + format(abs(datum.value), '.1f')",
            "title": "I [nA]", "grid": false,
            "tickSize": -6,
            "labelPadding": {"condition": {"test": "datum.value === 0", "value": 38}, "value": 15},
            "labelFontSize": 23, "labelFont": "DejaVu Sans",
            "labelColor": "#262626", "labelFlush": false, "labelOverlap": false,
            "titleFontSize": 25, "titleFont": "DejaVu Sans", "titleFontWeight": "normal",
            "titleColor": "#262626", "titleX": -70, "titleY": 212, "titleBaseline": "middle", "titleAlign": "center",
            "domainColor": "#262626", "domainWidth": 0.8, "tickColor": "#262626", "tickWidth": 0.8
          }
        },
        "detail": {"field": "trace", "type": "nominal"}
      }
    },
    {
      "data": {"values": [{}]},
      "mark": {"type": "text", "text": "HCN1 \u00a0Human \u00a0CHO_FT", "font": "DejaVu Sans", "fontWeight": "bold", "fontSize": 24, "align": "left", "baseline": "alphabetic", "color": "#000000"},
      "encoding": {"x": {"datum": 0.1256, "type": "quantitative"}, "y": {"datum": 0.166, "type": "quantitative"}}
    },
    {
      "data": {"values": [{}]},
      "mark": {"type": "text", "text": "25 °C \u00a0Inactivation", "font": "DejaVu Sans", "fontSize": 19, "align": "right", "baseline": "alphabetic", "color": "#000000"},
      "encoding": {"x": {"datum": 5.181, "type": "quantitative"}, "y": {"datum": 0.112, "type": "quantitative"}}
    },
    {
      "data": {"values": [{}]},
      "mark": {"type": "text", "text": "BBP Channelpedia ID 40255 rep 2", "font": "DejaVu Sans", "fontSize": 13.5, "angle": 270, "align": "center", "baseline": "middle", "color": "#000000"},
      "encoding": {"x": {"datum": 5.31, "type": "quantitative"}, "y": {"datum": -0.48, "type": "quantitative"}}
    }
  ]
}
